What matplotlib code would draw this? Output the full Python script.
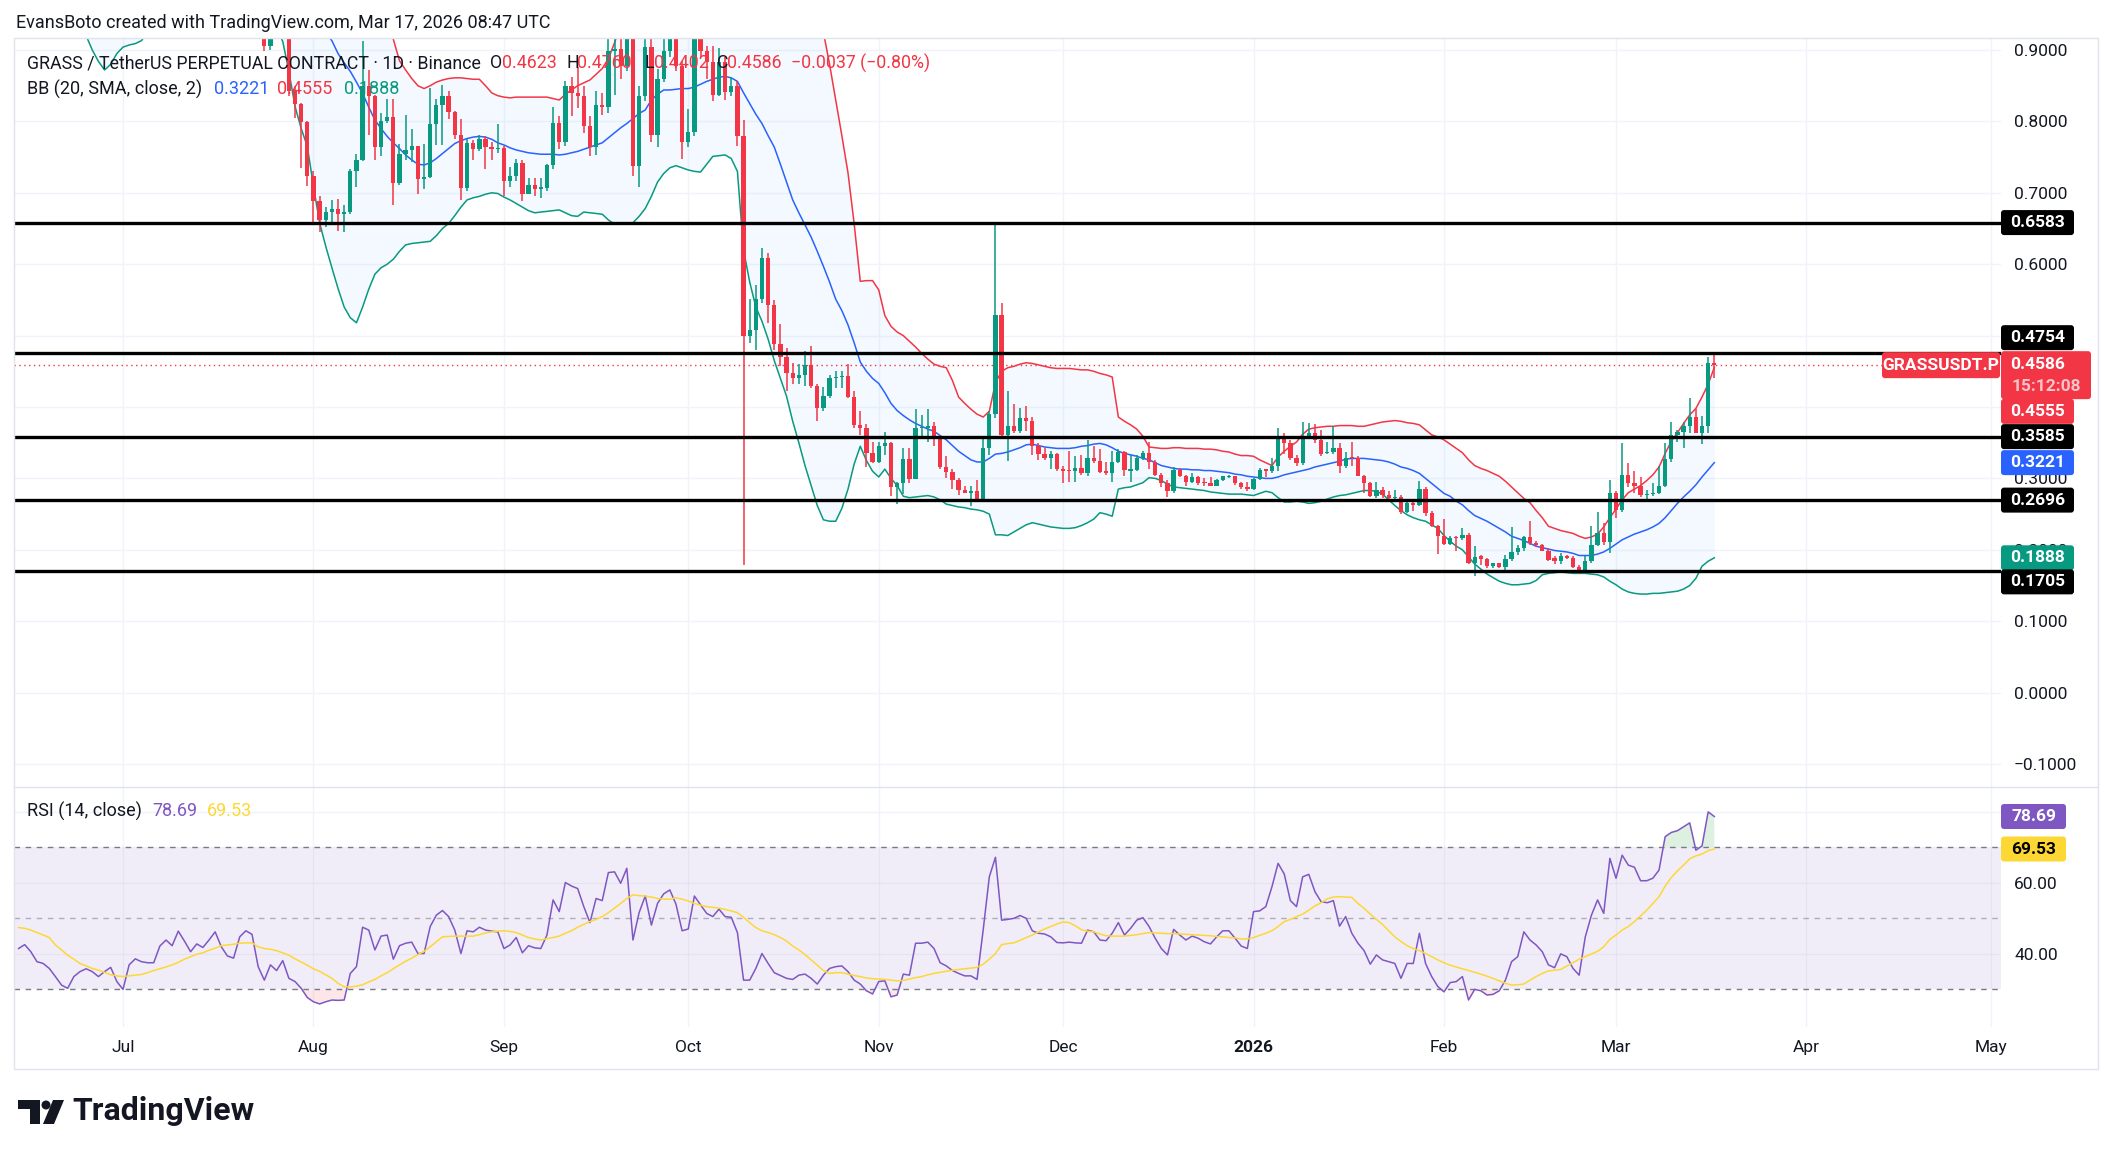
import numpy as np
import pandas as pd
import matplotlib
matplotlib.use("Agg")
import matplotlib.pyplot as plt
import matplotlib.dates as mdates
from matplotlib.patches import Rectangle, Polygon, Circle, FancyBboxPatch
from matplotlib.lines import Line2D
from matplotlib.transforms import IdentityTransform

plt.rcParams['font.family'] = ['Roboto', 'DejaVu Sans']

# ---------------- data ----------------
candle_start = "2025-07-24"
opens = [
    0.960, 0.905, 0.935, 0.945, 0.935, 0.842, 0.824, 0.799,                      # Jul 24-31
    0.723, 0.688, 0.662, 0.673, 0.677, 0.671, 0.673, 0.731, 0.746, 0.850, 0.835,  # Aug
    0.764, 0.801, 0.806, 0.714, 0.755, 0.760, 0.765, 0.719, 0.722, 0.797, 0.823,
    0.836, 0.813, 0.781, 0.707, 0.770, 0.761, 0.776, 0.764, 0.761,
    0.763, 0.716, 0.723, 0.742, 0.699, 0.711, 0.706, 0.707, 0.739, 0.798, 0.771,  # Sep
    0.850, 0.840, 0.835, 0.793, 0.764, 0.823, 0.820, 0.898, 0.902, 0.877, 0.950,
    0.738, 0.835, 0.904, 0.781, 0.860, 0.898, 0.940, 0.877,
    0.771, 0.785, 0.940, 0.899, 0.883, 0.837, 0.883, 0.841, 0.850, 0.779, 0.500,  # Oct
    0.508, 0.551, 0.609, 0.543, 0.488, 0.470, 0.447, 0.441, 0.445, 0.459, 0.430,
    0.399, 0.415, 0.440, 0.442, 0.444, 0.414, 0.375, 0.370, 0.336,
    0.323, 0.346, 0.350, 0.288, 0.293, 0.327, 0.299, 0.370, 0.371, 0.374, 0.355,  # Nov
    0.316, 0.309, 0.298, 0.284, 0.280, 0.283, 0.271, 0.343, 0.390, 0.529, 0.361,
    0.374, 0.366, 0.385, 0.380, 0.346, 0.334, 0.329, 0.334,
    0.313, 0.311, 0.310, 0.314, 0.307, 0.328, 0.324, 0.310, 0.308, 0.323, 0.337,  # Dec
    0.311, 0.312, 0.329, 0.336, 0.323, 0.305, 0.293, 0.283, 0.312, 0.304, 0.295,
    0.302, 0.295, 0.293, 0.290, 0.298, 0.302, 0.303, 0.293, 0.288,
    0.285, 0.299, 0.312, 0.311, 0.317, 0.358, 0.350, 0.328, 0.322, 0.360, 0.364,  # Jan
    0.354, 0.335, 0.337, 0.342, 0.317, 0.329, 0.328, 0.304, 0.294, 0.275, 0.284,
    0.277, 0.272, 0.274, 0.253, 0.265, 0.263, 0.285, 0.252, 0.233,
    0.219, 0.208, 0.217, 0.216, 0.221, 0.181, 0.191, 0.187, 0.177, 0.181, 0.176,  # Feb
    0.187, 0.197, 0.202, 0.218, 0.209, 0.207, 0.199, 0.188, 0.184, 0.192, 0.189,
    0.176, 0.171, 0.184, 0.207, 0.223, 0.211,
    0.279, 0.256, 0.305, 0.293, 0.289, 0.277, 0.278, 0.280, 0.290, 0.327, 0.361,  # Mar
    0.365, 0.373, 0.386, 0.364, 0.373, 0.4623,
]
highs = [
    0.980, 0.950, 0.960, 0.975, 0.950, 0.850, 0.826, 0.800,
    0.730, 0.695, 0.680, 0.690, 0.692, 0.683, 0.733, 0.754, 0.913, 0.872, 0.837,
    0.812, 0.832, 0.832, 0.769, 0.809, 0.789, 0.766, 0.769, 0.847, 0.832, 0.851,
    0.842, 0.814, 0.804, 0.776, 0.774, 0.781, 0.779, 0.771, 0.797,
    0.766, 0.736, 0.748, 0.746, 0.721, 0.721, 0.721, 0.741, 0.820, 0.807, 0.857,
    0.862, 0.876, 0.850, 0.807, 0.842, 0.840, 0.930, 0.930, 0.930, 0.980, 0.970,
    0.850, 0.930, 0.930, 0.873, 0.930, 0.960, 0.960, 0.885,
    0.817, 0.960, 0.960, 0.905, 0.905, 0.903, 0.890, 0.862, 0.857, 0.802, 0.551,
    0.571, 0.622, 0.615, 0.550, 0.516, 0.483, 0.462, 0.460, 0.479, 0.486, 0.432,
    0.428, 0.445, 0.450, 0.450, 0.460, 0.422, 0.394, 0.376, 0.351,
    0.351, 0.365, 0.351, 0.295, 0.343, 0.343, 0.397, 0.389, 0.397, 0.379, 0.361,
    0.331, 0.313, 0.300, 0.290, 0.290, 0.298, 0.356, 0.394, 0.657, 0.545, 0.423,
    0.404, 0.399, 0.402, 0.386, 0.349, 0.343, 0.338, 0.336,
    0.318, 0.338, 0.331, 0.333, 0.354, 0.346, 0.341, 0.323, 0.338, 0.341, 0.338,
    0.333, 0.333, 0.338, 0.351, 0.326, 0.308, 0.298, 0.316, 0.314, 0.305, 0.307,
    0.303, 0.300, 0.302, 0.299, 0.304, 0.305, 0.304, 0.295, 0.295,
    0.300, 0.314, 0.313, 0.329, 0.370, 0.364, 0.354, 0.333, 0.379, 0.378, 0.376,
    0.368, 0.351, 0.374, 0.349, 0.337, 0.351, 0.331, 0.305, 0.295, 0.295, 0.288,
    0.282, 0.284, 0.277, 0.267, 0.267, 0.297, 0.288, 0.255, 0.235,
    0.243, 0.219, 0.219, 0.230, 0.223, 0.206, 0.193, 0.189, 0.182, 0.182, 0.193,
    0.232, 0.207, 0.219, 0.240, 0.212, 0.208, 0.203, 0.192, 0.196, 0.193, 0.192,
    0.179, 0.192, 0.233, 0.253, 0.237, 0.298,
    0.282, 0.349, 0.322, 0.311, 0.302, 0.284, 0.294, 0.317, 0.349, 0.379, 0.368,
    0.379, 0.412, 0.397, 0.388, 0.470, 0.4760,
]
lows = [
    0.898, 0.900, 0.915, 0.920, 0.835, 0.805, 0.735, 0.710,
    0.658, 0.645, 0.652, 0.655, 0.647, 0.645, 0.670, 0.708, 0.744, 0.781, 0.746,
    0.751, 0.798, 0.683, 0.711, 0.746, 0.743, 0.698, 0.705, 0.721, 0.767, 0.767,
    0.804, 0.776, 0.690, 0.703, 0.746, 0.759, 0.734, 0.746, 0.756,
    0.695, 0.708, 0.716, 0.688, 0.698, 0.695, 0.693, 0.703, 0.733, 0.761, 0.766,
    0.807, 0.819, 0.784, 0.751, 0.753, 0.809, 0.812, 0.837, 0.860, 0.870, 0.723,
    0.708, 0.829, 0.771, 0.764, 0.855, 0.890, 0.870, 0.748,
    0.764, 0.780, 0.890, 0.860, 0.829, 0.835, 0.830, 0.835, 0.766, 0.179, 0.490,
    0.480, 0.545, 0.518, 0.480, 0.457, 0.422, 0.432, 0.432, 0.429, 0.427, 0.381,
    0.394, 0.412, 0.427, 0.427, 0.412, 0.371, 0.361, 0.316, 0.321,
    0.321, 0.333, 0.275, 0.264, 0.278, 0.293, 0.299, 0.356, 0.351, 0.346, 0.313,
    0.300, 0.285, 0.277, 0.279, 0.261, 0.267, 0.267, 0.333, 0.384, 0.355, 0.324,
    0.364, 0.363, 0.366, 0.333, 0.326, 0.326, 0.313, 0.311,
    0.293, 0.295, 0.295, 0.305, 0.303, 0.321, 0.308, 0.305, 0.295, 0.321, 0.303,
    0.295, 0.311, 0.326, 0.313, 0.303, 0.288, 0.274, 0.280, 0.302, 0.289, 0.294,
    0.291, 0.289, 0.289, 0.289, 0.297, 0.300, 0.291, 0.285, 0.282,
    0.284, 0.298, 0.302, 0.308, 0.311, 0.334, 0.326, 0.317, 0.319, 0.355, 0.350,
    0.332, 0.334, 0.334, 0.307, 0.314, 0.318, 0.303, 0.280, 0.274, 0.273, 0.273,
    0.270, 0.270, 0.250, 0.252, 0.255, 0.262, 0.248, 0.232, 0.194,
    0.207, 0.207, 0.199, 0.214, 0.180, 0.164, 0.179, 0.175, 0.175, 0.175, 0.171,
    0.185, 0.193, 0.199, 0.207, 0.204, 0.198, 0.185, 0.180, 0.180, 0.187, 0.175,
    0.166, 0.169, 0.182, 0.206, 0.207, 0.196,
    0.245, 0.253, 0.288, 0.280, 0.274, 0.270, 0.275, 0.278, 0.288, 0.323, 0.351,
    0.343, 0.363, 0.363, 0.348, 0.364, 0.4402,
]
closes = [
    0.905, 0.935, 0.945, 0.935, 0.842, 0.824, 0.799, 0.723,
    0.688, 0.662, 0.673, 0.677, 0.671, 0.673, 0.731, 0.746, 0.850, 0.835, 0.764,
    0.801, 0.806, 0.714, 0.755, 0.760, 0.765, 0.719, 0.722, 0.797, 0.823, 0.836,
    0.813, 0.781, 0.707, 0.770, 0.761, 0.776, 0.764, 0.761, 0.763,
    0.716, 0.723, 0.742, 0.699, 0.711, 0.706, 0.707, 0.739, 0.798, 0.771, 0.850,
    0.840, 0.835, 0.793, 0.764, 0.823, 0.820, 0.898, 0.902, 0.877, 0.950, 0.738,
    0.835, 0.904, 0.781, 0.860, 0.898, 0.940, 0.877, 0.771,
    0.785, 0.940, 0.899, 0.883, 0.837, 0.883, 0.841, 0.850, 0.779, 0.500, 0.508,
    0.551, 0.609, 0.543, 0.488, 0.470, 0.447, 0.441, 0.445, 0.459, 0.430, 0.399,
    0.415, 0.440, 0.442, 0.444, 0.414, 0.375, 0.370, 0.336, 0.323,
    0.346, 0.350, 0.288, 0.293, 0.327, 0.299, 0.370, 0.371, 0.374, 0.355, 0.316,
    0.309, 0.298, 0.284, 0.280, 0.283, 0.271, 0.343, 0.390, 0.529, 0.361, 0.374,
    0.366, 0.385, 0.380, 0.346, 0.334, 0.329, 0.334, 0.313,
    0.311, 0.310, 0.314, 0.307, 0.328, 0.324, 0.309, 0.308, 0.323, 0.337, 0.312,
    0.312, 0.329, 0.336, 0.323, 0.305, 0.293, 0.283, 0.312, 0.304, 0.295, 0.302,
    0.294, 0.293, 0.290, 0.298, 0.303, 0.303, 0.293, 0.288, 0.285,
    0.299, 0.312, 0.311, 0.317, 0.358, 0.350, 0.328, 0.322, 0.360, 0.364, 0.354,
    0.334, 0.337, 0.342, 0.317, 0.328, 0.328, 0.304, 0.294, 0.275, 0.284, 0.277,
    0.272, 0.274, 0.253, 0.265, 0.263, 0.285, 0.252, 0.233, 0.219,
    0.208, 0.217, 0.216, 0.221, 0.181, 0.190, 0.187, 0.177, 0.181, 0.176, 0.187,
    0.197, 0.202, 0.218, 0.209, 0.207, 0.199, 0.186, 0.184, 0.192, 0.189, 0.176,
    0.171, 0.184, 0.207, 0.223, 0.211, 0.279,
    0.256, 0.305, 0.293, 0.289, 0.277, 0.278, 0.280, 0.290, 0.327, 0.361, 0.365,
    0.373, 0.386, 0.364, 0.373, 0.4623, 0.4586,
]

ind_start = "2025-06-14"
bb_upper = [
    1.22, 1.22, 1.21, 1.21, 1.20, 1.20, 1.19, 1.19, 1.18, 1.18, 1.17, 1.17, 1.16, 1.16, 1.15, 1.15, 1.14,
    1.14, 1.13, 1.13, 1.12, 1.12, 1.11, 1.11, 1.10, 1.10, 1.10, 1.09, 1.09, 1.09, 1.08, 1.08, 1.08,
    1.08, 1.07, 1.07, 1.07, 1.07, 1.07, 1.07, 1.07, 1.07, 1.07, 1.07, 1.08, 1.09, 1.10, 1.12,
    1.13, 1.14, 1.14, 1.14, 1.13, 1.12, 1.10, 1.08, 1.06, 1.03, 1.00, 0.97, 0.94,
    0.915, 0.885, 0.872, 0.860, 0.850, 0.846, 0.850, 0.855, 0.858, 0.860, 0.861, 0.861, 0.860, 0.859,
    0.859, 0.850, 0.840, 0.836,
    0.834, 0.833, 0.834, 0.834, 0.834, 0.834, 0.834, 0.834, 0.832, 0.830, 0.838, 0.844, 0.850, 0.854,
    0.858, 0.866, 0.874, 0.888, 0.910, 0.935, 0.955, 0.975, 0.985, 0.990, 1.000, 1.010, 1.020, 1.030,
    1.030, 1.030,
    1.030, 1.040, 1.040, 1.040, 1.040, 1.040, 1.040, 1.040, 1.040, 1.100, 1.130, 1.150, 1.160, 1.160,
    1.160, 1.150, 1.140, 1.120, 1.100, 1.070, 1.030, 0.980, 0.925, 0.880, 0.830, 0.780, 0.728, 0.657,
    0.576, 0.577, 0.577,
    0.564, 0.528, 0.513, 0.505, 0.500, 0.492, 0.484, 0.475, 0.467, 0.460, 0.457, 0.455, 0.437, 0.414,
    0.405, 0.397, 0.390, 0.386, 0.394, 0.434, 0.450, 0.455, 0.457, 0.460, 0.462, 0.461, 0.459, 0.457,
    0.455, 0.454,
    0.454, 0.454, 0.453, 0.452, 0.452, 0.450, 0.447, 0.445, 0.442, 0.386, 0.380, 0.375, 0.369, 0.359,
    0.344, 0.343, 0.342, 0.342, 0.343, 0.343, 0.342, 0.342, 0.342, 0.341, 0.341, 0.340, 0.338, 0.337,
    0.334, 0.332, 0.332,
    0.331, 0.326, 0.322, 0.318, 0.330, 0.338, 0.345, 0.351, 0.362, 0.369, 0.371, 0.372, 0.373, 0.373,
    0.374, 0.374, 0.374, 0.373, 0.373, 0.375, 0.377, 0.379, 0.380, 0.381, 0.380, 0.378, 0.377, 0.375,
    0.368, 0.361, 0.358,
    0.354, 0.348, 0.342, 0.336, 0.326, 0.318, 0.314, 0.311, 0.307, 0.303, 0.296, 0.288, 0.280, 0.272,
    0.266, 0.255, 0.245, 0.233, 0.230, 0.227, 0.225, 0.223, 0.219, 0.216, 0.218, 0.222, 0.232, 0.245,
    0.257, 0.270, 0.280, 0.285, 0.290, 0.297, 0.305, 0.316, 0.335, 0.352, 0.364, 0.377, 0.389, 0.398,
    0.414, 0.432, 0.4555,
]
bb_basis = [
    1.12, 1.12, 1.11, 1.11, 1.11, 1.10, 1.10, 1.10, 1.09, 1.09, 1.09, 1.08, 1.08, 1.08, 1.07, 1.07, 1.07,
    1.06, 1.06, 1.06, 1.05, 1.05, 1.05, 1.05, 1.04, 1.04, 1.04, 1.04, 1.03, 1.03, 1.03, 1.03, 1.03,
    1.02, 1.02, 1.02, 1.02, 1.02, 1.01, 1.01, 1.01, 1.00, 1.00, 0.995, 0.985, 0.975, 0.965, 0.955,
    0.945, 0.935, 0.924, 0.913, 0.895, 0.882, 0.870, 0.855, 0.839, 0.820, 0.802, 0.790, 0.779, 0.770,
    0.762, 0.753, 0.746, 0.740, 0.739, 0.742, 0.748, 0.755, 0.762, 0.769, 0.773, 0.776, 0.778, 0.779,
    0.778, 0.775, 0.770,
    0.767, 0.763, 0.760, 0.758, 0.756, 0.755, 0.754, 0.754, 0.754, 0.753, 0.754, 0.756, 0.758, 0.761,
    0.764, 0.767, 0.770, 0.777, 0.784, 0.791, 0.797, 0.804, 0.811, 0.816, 0.830, 0.838, 0.844, 0.844,
    0.845, 0.846,
    0.846, 0.848, 0.852, 0.856, 0.859, 0.862, 0.863, 0.861, 0.856, 0.840, 0.825, 0.810, 0.797, 0.780,
    0.764, 0.740, 0.715, 0.690, 0.672, 0.655, 0.638, 0.618, 0.597, 0.575, 0.551, 0.535, 0.515, 0.490,
    0.463, 0.450, 0.440,
    0.433, 0.420, 0.405, 0.395, 0.388, 0.382, 0.377, 0.373, 0.369, 0.366, 0.360, 0.354, 0.346, 0.338,
    0.332, 0.326, 0.323, 0.323, 0.328, 0.334, 0.335, 0.337, 0.340, 0.343, 0.347, 0.348, 0.346, 0.344,
    0.343, 0.342,
    0.342, 0.342, 0.343, 0.345, 0.346, 0.348, 0.349, 0.347, 0.343, 0.338, 0.335, 0.333, 0.331, 0.328,
    0.326, 0.322, 0.318, 0.316, 0.314, 0.313, 0.313, 0.312, 0.312, 0.311, 0.311, 0.310, 0.309, 0.308,
    0.306, 0.305, 0.303,
    0.302, 0.301, 0.300, 0.300, 0.302, 0.305, 0.307, 0.309, 0.311, 0.313, 0.316, 0.318, 0.320, 0.322,
    0.324, 0.327, 0.328, 0.328, 0.328, 0.327, 0.326, 0.325, 0.323, 0.320, 0.316, 0.314, 0.311, 0.307,
    0.300, 0.293, 0.286,
    0.279, 0.275, 0.268, 0.263, 0.255, 0.248, 0.244, 0.240, 0.235, 0.230, 0.225, 0.219, 0.216, 0.213,
    0.209, 0.205, 0.203, 0.201, 0.199, 0.198, 0.197, 0.195, 0.192, 0.192, 0.192, 0.194, 0.197, 0.202,
    0.208, 0.214, 0.218, 0.222, 0.225, 0.228, 0.232, 0.237, 0.245, 0.255, 0.265, 0.274, 0.282, 0.291,
    0.302, 0.312, 0.3221,
]
bb_lower = [
    0.99, 1.00, 1.00, 0.99, 0.98, 0.97, 0.96, 0.955, 0.95, 0.94, 0.93,
    0.920, 0.900, 0.884, 0.872, 0.880, 0.895,
    0.904, 0.907, 0.909, 0.913, 0.925, 0.94, 0.95, 0.96, 0.97, 0.98, 0.99, 1.00, 1.00, 1.00, 0.99,
    0.99, 0.98, 0.98, 0.97, 0.97, 0.96, 0.96, 0.95, 0.95, 0.94, 0.93, 0.912, 0.870, 0.821, 0.790, 0.765,
    0.709, 0.658, 0.625, 0.595, 0.566, 0.540, 0.525, 0.518, 0.540, 0.565, 0.586, 0.595, 0.600, 0.607,
    0.618, 0.627, 0.629, 0.630, 0.631, 0.632, 0.640, 0.650, 0.657, 0.668, 0.680, 0.690, 0.693, 0.695,
    0.698, 0.700, 0.699,
    0.694, 0.690, 0.685, 0.680, 0.675, 0.672, 0.673, 0.674, 0.675, 0.676, 0.672, 0.668, 0.667, 0.673,
    0.672, 0.671, 0.670, 0.662, 0.656, 0.656, 0.657, 0.658, 0.667, 0.678, 0.695, 0.715, 0.727, 0.735,
    0.738, 0.735,
    0.732, 0.730, 0.729, 0.740, 0.751, 0.752, 0.753, 0.748, 0.730, 0.620, 0.575, 0.540, 0.520, 0.495,
    0.465, 0.440, 0.415, 0.380, 0.350, 0.318, 0.290, 0.262, 0.242, 0.240, 0.240, 0.258, 0.285, 0.320,
    0.345, 0.325, 0.310,
    0.302, 0.313, 0.300, 0.290, 0.275, 0.273, 0.274, 0.275, 0.276, 0.274, 0.270, 0.264, 0.262, 0.260,
    0.259, 0.257, 0.256, 0.254, 0.250, 0.221, 0.221, 0.220, 0.225, 0.230, 0.235, 0.238, 0.236, 0.234,
    0.232, 0.231,
    0.230, 0.230, 0.231, 0.234, 0.238, 0.243, 0.252, 0.250, 0.247, 0.285, 0.287, 0.288, 0.291, 0.294,
    0.301, 0.300, 0.297, 0.292, 0.288, 0.287, 0.286, 0.285, 0.284, 0.283, 0.281, 0.280, 0.279, 0.278,
    0.278, 0.278, 0.277,
    0.276, 0.279, 0.282, 0.280, 0.273, 0.267, 0.267, 0.268, 0.267, 0.265, 0.266, 0.268, 0.271, 0.274,
    0.276, 0.277, 0.279, 0.281, 0.283, 0.283, 0.282, 0.278, 0.270, 0.262, 0.255, 0.249, 0.245, 0.242,
    0.240, 0.235, 0.230,
    0.220, 0.212, 0.205, 0.200, 0.190, 0.180, 0.173, 0.166, 0.161, 0.156, 0.153, 0.151, 0.151, 0.152,
    0.153, 0.157, 0.165, 0.167, 0.168, 0.169, 0.168, 0.167, 0.167, 0.167, 0.166, 0.165, 0.162, 0.156,
    0.151, 0.145, 0.141, 0.139, 0.138, 0.138, 0.139, 0.139, 0.140, 0.141, 0.142, 0.145, 0.150, 0.160,
    0.177, 0.184, 0.1888,
]
rsi = [
    41.5, 42.6, 40.6, 37.8, 37.3, 35.9, 33.6, 31.2, 30.3, 33.6, 35.0, 35.8, 35.0, 33.6, 35.0, 36.2, 32.2,
    30.0, 36.9, 38.6, 37.8, 37.5, 37.5, 42.2, 43.9, 42.3, 46.4, 43.6, 40.6, 42.8, 41.8, 43.9, 46.2,
    42.0, 39.4, 38.8, 44.8, 46.5, 45.5, 36.4, 32.6, 36.9, 35.3, 38.1, 33.1, 32.2, 30.3, 27.7,
    26.5, 25.9, 26.5, 27.0, 26.9, 27.0, 34.5, 36.4, 47.5, 46.7, 41.1, 45.0, 45.3, 38.5, 42.3, 43.0,
    43.3, 40.1, 40.1, 47.7, 50.9, 52.2, 50.5, 46.7, 40.1, 46.5, 46.2, 47.5, 46.7, 46.4, 46.2,
    41.5, 42.5, 44.6, 40.3, 42.3, 41.7, 41.5, 45.3, 55.2, 51.9, 60.1, 59.1, 58.4, 53.3, 48.8, 55.6,
    55.0, 62.9, 63.1, 59.9, 64.1, 43.9, 51.6, 56.3, 48.1, 54.2, 56.9, 58.0, 54.0, 46.5,
    47.0, 56.3, 53.8, 51.4, 50.5, 52.6, 50.5, 50.3, 46.0, 32.6, 32.6, 35.9, 40.1, 37.3, 34.7, 33.9,
    33.1, 32.8, 34.0, 34.3, 33.1, 31.5, 34.0, 35.9, 36.4, 36.6, 35.0, 32.6, 31.5, 29.6, 28.7,
    32.2, 32.4, 27.9, 28.4, 34.3, 34.0, 43.0, 43.0, 43.3, 41.5, 37.5, 36.6, 35.3, 34.5, 33.8, 33.8,
    32.8, 46.7, 61.7, 67.2, 49.5, 49.7, 50.0, 50.8, 50.0, 46.5, 45.8, 45.6, 44.8, 43.2,
    43.1, 43.3, 43.1, 43.0, 46.7, 46.2, 43.9, 43.7, 45.8, 48.8, 45.3, 47.2, 49.5, 50.2, 47.7, 44.4,
    41.5, 39.7, 46.9, 45.3, 43.9, 45.0, 44.4, 43.4, 42.8, 44.8, 46.5, 46.5, 44.4, 42.2, 41.5,
    51.9, 52.1, 53.3, 58.9, 65.5, 62.5, 55.0, 53.3, 61.7, 62.4, 57.5, 54.7, 54.4, 55.0, 47.8, 50.5,
    45.8, 43.0, 40.9, 37.1, 39.7, 38.3, 37.8, 37.3, 33.1, 37.3, 37.3, 45.8, 37.3, 33.6, 30.8,
    29.3, 31.9, 32.2, 33.6, 27.0, 30.0, 29.6, 28.4, 28.6, 29.6, 32.6, 37.8, 39.2, 46.2, 43.9, 42.5,
    40.6, 36.9, 36.1, 40.0, 39.2, 35.9, 34.0, 44.8, 50.9, 55.2, 51.4, 66.9,
    61.3, 67.8, 65.0, 64.4, 60.6, 60.6, 61.3, 63.6, 73.0, 74.2, 74.7, 75.8, 76.9, 69.2, 70.4, 80.0,
    78.69,
]
rsi_ma = [
    47.4, 47.2, 46.7, 46.0, 45.3, 44.6, 42.5, 41.1, 39.6, 38.5, 37.3, 36.6, 35.9, 35.4, 34.8, 34.1, 33.8,
    33.6, 33.8, 34.0, 34.2, 34.7, 35.3, 35.8, 36.3, 36.9, 37.6, 38.5, 39.2, 39.9, 40.3, 41.0, 41.6,
    42.3, 42.5, 42.7, 43.0, 43.1, 43.1, 42.0, 41.5, 41.3, 40.9, 40.3, 39.6, 38.6, 37.7, 36.8,
    35.8, 35.1, 34.1, 33.1, 31.7, 30.7, 30.7, 30.9, 31.3, 32.1, 32.8, 33.8, 34.7, 35.8, 36.9, 37.9,
    38.8, 39.8, 40.7, 42.0, 43.4, 44.8, 44.9, 45.0, 45.0, 45.0, 45.0, 45.4, 45.9, 46.2, 46.4,
    46.5, 46.3, 46.0, 45.3, 44.6, 44.2, 43.9, 44.3, 44.6, 45.0, 45.8, 46.5, 47.5, 48.3, 49.1, 49.7,
    50.5, 51.6, 52.9, 54.2, 55.6, 56.6, 56.4, 56.3, 56.0, 55.6, 55.4, 55.4, 55.8, 55.4,
    54.9, 54.2, 53.7, 53.3, 53.1, 52.9, 52.5, 52.1, 51.6, 50.3, 48.8, 47.4, 46.5, 46.0, 45.4, 44.6,
    43.6, 42.2, 41.1, 39.8, 38.3, 36.8, 35.3, 34.5, 34.7, 34.7, 34.3, 33.9, 33.6, 33.2, 33.0,
    32.9, 32.8, 32.6, 32.4, 32.5, 32.9, 33.3, 33.6, 34.1, 34.5, 34.8, 35.1, 35.4, 35.6, 35.8, 36.0,
    36.2, 37.1, 38.5, 40.1, 42.6, 42.9, 43.1, 43.8, 44.6, 45.3, 46.2, 47.0, 47.7, 48.4,
    49.0, 48.8, 47.9, 46.8, 46.4, 46.2, 45.6, 45.1, 45.0, 45.0, 45.0, 45.2, 45.4, 45.7, 46.0, 45.9,
    45.8, 45.7, 45.7, 45.6, 45.5, 45.4, 45.3, 45.2, 45.1, 44.9, 44.8, 44.6, 44.5, 44.2, 44.2,
    44.6, 45.2, 45.8, 46.5, 47.7, 49.1, 49.7, 50.5, 51.2, 52.3, 53.5, 54.4, 55.5, 56.0, 56.1, 56.0,
    55.9, 54.2, 52.8, 51.2, 49.7, 48.3, 46.5, 44.8, 43.5, 42.3, 41.5, 40.9, 40.1, 39.2, 38.3,
    37.5, 36.8, 36.3, 35.8, 35.3, 34.8, 34.3, 33.7, 33.1, 32.4, 31.7, 31.2, 31.3, 31.5, 32.6, 33.6,
    34.5, 35.2, 35.4, 35.6, 36.6, 37.5, 38.5, 39.2, 40.0, 40.7, 42.0, 44.1,
    45.3, 46.7, 47.7, 49.1, 50.7, 52.3, 54.2, 56.1, 59.1, 61.5, 63.4, 65.0, 66.8, 67.6, 68.1, 69.1,
    69.53,
]

levels = [0.6583, 0.4754, 0.3585, 0.2696, 0.1705]
month_labels = ['Jul', 'Aug', 'Sep', 'Oct', 'Nov', 'Dec', '2026', 'Feb', 'Mar', 'Apr', 'May']

# ---------------- layout (pixels, origin top-left) ----------------
W, H = 2114, 1157
L, R = 14, 2001
TOP, SEP, BOT = 38, 787, 1027
UP, DOWN = '#089981', '#f23645'
BLUE, PURPLE, YELLOW = '#2962ff', '#7e57c2', '#fdd835'
TXT = '#131722'
GRID = '#f0f3fa'

fig = plt.figure(figsize=(W / 100, H / 100), dpi=100)
fig.patch.set_facecolor('white')
ax = fig.add_axes([L / W, 1 - SEP / H, (R - L) / W, (SEP - TOP) / H])
axr = fig.add_axes([L / W, 1 - BOT / H, (R - L) / W, (BOT - SEP) / H], sharex=ax)

jul1 = mdates.date2num(pd.Timestamp('2025-07-01'))
ax.set_xlim(jul1 - 17.74, jul1 + 305.66)
ax.set_ylim(-0.1322, 0.9168)
axr.set_ylim(19.4, 87.0)

months = mdates.date2num(pd.date_range('2025-07-01', '2026-05-01', freq='MS'))
for a in (ax, axr):
    for s in a.spines.values():
        s.set_visible(False)
    a.set_xticks(months)
    a.grid(True, color=GRID, lw=1.0, zorder=0)
    a.set_axisbelow(True)
    a.yaxis.tick_right()
    a.tick_params(length=0, colors=TXT, labelsize=12.5)
    a.tick_params(axis='y', pad=9.4)

yt = np.round(np.arange(-0.1, 0.95, 0.1), 1)
ax.set_yticks(yt)
ax.set_yticklabels([f"{v:.4f}".replace('-', '\u2212') for v in yt])
ax.tick_params(labelbottom=False)
axr.set_yticks([40, 60, 80])
axr.set_yticklabels(['40.00', '60.00', ''])
axr.set_xticklabels(month_labels)
axr.tick_params(axis='x', pad=9.7)
axr.get_xticklabels()[6].set_fontweight('bold')

# ---------------- price pane ----------------
ix = mdates.date2num(pd.date_range(ind_start, periods=len(rsi), freq='D'))
ax.fill_between(ix, bb_upper, bb_lower, color='#2196f3', alpha=0.05, lw=0, zorder=1)
ax.plot(ix, bb_upper, color=DOWN, lw=1.1, zorder=2)
ax.plot(ix, bb_basis, color=BLUE, lw=1.1, zorder=2)
ax.plot(ix, bb_lower, color=UP, lw=1.1, zorder=2)

cx = mdates.date2num(pd.date_range(candle_start, periods=len(closes), freq='D'))
o, hi, lo, c = map(np.array, (opens, highs, lows, closes))
col = np.where(c >= o, UP, DOWN)
ax.vlines(cx, lo, hi, colors=col, lw=1.1, zorder=3)
ax.bar(cx, np.maximum(np.abs(c - o), 0.0015), bottom=np.minimum(o, c), width=0.7,
       color=col, lw=0, zorder=3)

for lv in levels:
    ax.axhline(lv, color='black', lw=2.4, zorder=4)
ax.axhline(closes[-1], color=DOWN, lw=1.0, ls=(0, (1, 2.5)), zorder=2.5)

# ---------------- RSI pane ----------------
rsi_a = np.array(rsi)
axr.axhspan(30, 70, color=PURPLE, alpha=0.1, lw=0, zorder=1)
axr.fill_between(ix, rsi_a, 70, where=rsi_a > 70, interpolate=True, color='#4caf50', alpha=0.18, lw=0, zorder=1.5)
axr.fill_between(ix, rsi_a, 30, where=rsi_a < 30, interpolate=True, color=DOWN, alpha=0.12, lw=0, zorder=1.5)
for lv, a_ in ((70, 1.0), (50, 0.55), (30, 1.0)):
    axr.axhline(lv, color='#787b86', lw=1.0, ls=(0, (4, 4)), alpha=a_, zorder=2)
axr.plot(ix, rsi, color=PURPLE, lw=1.1, zorder=3)
axr.plot(ix, rsi_ma, color=YELLOW, lw=1.1, zorder=3)

# ---------------- frame ----------------
fig.add_artist(Rectangle((L, H - 1069), 2098 - L, 1069 - TOP, transform=IdentityTransform(),
                         fill=False, ec='#e0e3eb', lw=1.0, zorder=30))
fig.add_artist(Line2D([L, 2098], [H - SEP, H - SEP], transform=IdentityTransform(),
                      color='#e0e3eb', lw=1.0, zorder=30))


def ypx(a, v):
    return H - a.transData.transform((a.get_xlim()[0], v))[1]


def box(x0, x1, yc, h, fc):
    fig.add_artist(FancyBboxPatch((x0, H - yc - h / 2), x1 - x0, h,
                                  boxstyle="round,pad=0,rounding_size=3",
                                  transform=IdentityTransform(), fc=fc, ec='none', zorder=40))


def txt(x, yc, s, color, size=12.5, weight='normal', ha='left'):
    fig.text(x / W, 1 - yc / H, s, color=color, fontsize=size, fontweight=weight,
             ha=ha, va='center', zorder=50)


# price axis tags
tags = [(levels[0], 'black', 'white', 0), (levels[1], 'black', 'white', -15.5),
        (bb_upper[-1], DOWN, 'white', 44), (levels[2], 'black', 'white', 0),
        (bb_basis[-1], BLUE, 'white', 0), (levels[3], 'black', 'white', 0),
        (bb_lower[-1], UP, 'white', 0), (levels[4], 'black', 'white', 11)]
for v, fc, tc, off in tags:
    y = ypx(ax, v) + off
    box(2001, 2074, y, 25, fc)
    txt(2037.5, y, f"{v:.4f}", tc, weight='bold', ha='center')

yl = ypx(ax, closes[-1])
box(2001, 2091, yl + 10, 48, DOWN)
txt(2037.5, yl - 1, f"{closes[-1]:.4f}", 'white', weight='bold', ha='center')
txt(2046, yl + 21, '15:12:08', '#f9c4c9', weight='bold', ha='center')
box(1882, 2000, yl, 26, DOWN)
txt(1941, yl, 'GRASSUSDT.P', 'white', weight='bold', ha='center')

y1 = ypx(axr, rsi[-1])
box(2001, 2066, y1, 25, PURPLE)
txt(2033.5, y1, f"{rsi[-1]:.2f}", 'white', weight='bold', ha='center')
y2 = ypx(axr, rsi_ma[-1])
box(2001, 2066, y2, 25, YELLOW)
txt(2033.5, y2, f"{rsi_ma[-1]:.2f}", 'black', weight='bold', ha='center')

# ---------------- legends and header ----------------
txt(16, 23, 'EvansBoto created with TradingView.com, Mar 17, 2026 08:47 UTC', TXT, size=13)
chg = closes[-1] - opens[-1]
line1 = [('GRASS / TetherUS PERPETUAL CONTRACT \u00b7 1D \u00b7 Binance', 27, TXT),
         ('O', 490, TXT), (f"{opens[-1]:.4f}", 502, DOWN),
         ('H', 566, TXT), (f"{highs[-1]:.4f}", 577, DOWN),
         ('L', 644, TXT), (f"{lows[-1]:.4f}", 654, DOWN),
         ('C', 717, TXT), (f"{closes[-1]:.4f}", 727, DOWN),
         (f"\u2212{abs(chg):.4f} (\u2212{abs(chg) / opens[-1] * 100:.2f}%)", 791, DOWN)]
for s, x, cl in line1:
    txt(x, 63, s, cl, size=12.8)
line2 = [('BB (20, SMA, close, 2)', 27, TXT), (f"{bb_basis[-1]:.4f}", 214, BLUE),
         (f"{bb_upper[-1]:.4f}", 277, DOWN), (f"{bb_lower[-1]:.4f}", 344, UP)]
for s, x, cl in line2:
    txt(x, 89, s, cl, size=13)
for s, x, cl in [('RSI (14, close)', 27, TXT), (f"{rsi[-1]:.2f}", 152, PURPLE),
                 (f"{rsi_ma[-1]:.2f}", 207, YELLOW)]:
    txt(x, 811, s, cl, size=13)

# ---------------- TradingView logo ----------------
def P(pts):
    return [(x, H - y) for x, y in pts]

fig.add_artist(Polygon(P([(18, 1100), (40, 1100), (40, 1124), (30, 1124), (30, 1109), (18, 1109)]),
                       closed=True, transform=IdentityTransform(), fc=TXT, ec='none'))
fig.add_artist(Circle((46, H - 1105), 4.5, transform=IdentityTransform(), fc=TXT, ec='none'))
fig.add_artist(Polygon(P([(53, 1100), (64, 1100), (54, 1124), (43, 1124)]),
                       closed=True, transform=IdentityTransform(), fc=TXT, ec='none'))
txt(72, 1111, 'TradingView', TXT, size=23, weight='bold')

fig.savefig('out.png', dpi=100)
